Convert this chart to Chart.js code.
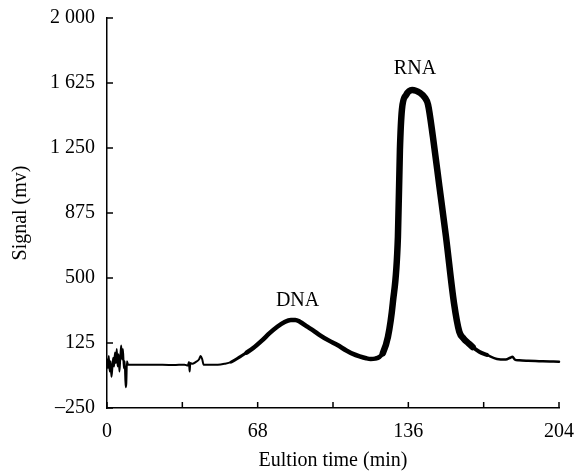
<!DOCTYPE html>
<html>
<head>
<meta charset="utf-8">
<script src="https://cdn.jsdelivr.net/npm/chart.js@4.4.1/dist/chart.umd.min.js"></script>
<style>
html,body{margin:0;padding:0;background:#fff;}
#wrap{width:578px;height:473px;}
</style>
</head>
<body>
<div id="wrap"><canvas id="c" width="578" height="473"></canvas></div>
<script>
// Elution time (min)
const timeMin = [0,0.4,0.8,1.2,1.6,2.0,2.4,2.8,3.2,3.6,4.0,4.4,4.8,5.2,5.6,6.0,6.4,6.8,7.2,7.6,8.0,8.4,8.7,9.0,9.5,
  12,20,30,35,36.5,37,37.3,37.6,38.5,40,41.5,42.3,43,43.6,46,50,53,56,60,63,66,70,73.5,77,80,83,85,87,90,93,
  96,100,104,108,111,114,117,119,121,123,124.5,126.8,129,131.3,132.2,133.1,135,137.7,141.3,143.5,144.9,147.1,
  150,153,156.6,159,161,163,165,168,171.5,176,180,182,183,184,186,190,195,200,204,205.8];
// Signal (mv)
const signalMv = [30,-20,50,-40,20,-70,-20,40,-10,70,10,90,-10,60,-40,40,110,30,90,-20,20,-130,-110,20,0,
  0,0,-2,0,-5,15,-40,10,5,15,30,50,30,0,0,0,5,15,45,70,96,140,183,220,245,258,258,248,222,198,
  171,140,113,82,62,48,37,33,35,45,67,160,356,737,1239,1470,1556,1585,1568,1540,1500,1314,
  1030,737,356,190,150,125,102,75,56,33,30,40,45,30,25,22,20,18,17,15];

const xTickValues = [0,34,68,102,136,170,204];
const xTickLabels = ['0','','68','','136','','204'];
const yTickValues = [-250,125,500,875,1250,1625,2000];
const yTickLabels = ['\u2013250','125','500','875','1\u00a0250','1\u00a0625','2\u00a0000'];

const peakNames = ['DNA','RNA'];
const peakNameTime = [86,139];
const peakNameSignal = [367,1706];

const FONT = '"Liberation Serif", "Times New Roman", Times, serif';

const points = timeMin.map((t,i)=>({x:t,y:signalMv[i]}));

const decor = {
  id:'decor',
  afterDatasetsDraw(chart){
    const {ctx, scales:{x,y}} = chart;
    ctx.save();
    ctx.strokeStyle = '#000';
    ctx.lineWidth = 1.5;
    const y0 = y.getPixelForValue(-250);
    const x0 = x.getPixelForValue(0);
    xTickValues.forEach(v=>{
      const px = x.getPixelForValue(v);
      ctx.beginPath(); ctx.moveTo(px, y0); ctx.lineTo(px, y0-6); ctx.stroke();
    });
    yTickValues.forEach(v=>{
      const py = y.getPixelForValue(v);
      ctx.beginPath(); ctx.moveTo(x0, py); ctx.lineTo(x0+6, py); ctx.stroke();
    });
    ctx.fillStyle = '#000';
    ctx.font = '20px ' + FONT;
    ctx.textAlign = 'center';
    ctx.textBaseline = 'middle';
    peakNames.forEach((n,i)=>{
      ctx.fillText(n, x.getPixelForValue(peakNameTime[i]), y.getPixelForValue(peakNameSignal[i]));
    });
    ctx.restore();
  }
};

function widthAt(t){
  if (t < 55) return 2;
  if (t < 62) return 3;
  if (t < 124) return 4.5;
  if (t < 166) return 6.5;
  if (t < 173) return 4;
  return 2.5;
}

new Chart(document.getElementById('c'), {
  type:'line',
  data:{datasets:[{
    data: points,
    borderColor:'#000',
    borderWidth:2,
    pointRadius:0,
    fill:false,
    cubicInterpolationMode:'monotone',
    borderCapStyle:'round',
    borderJoinStyle:'round',
    clip:false,
    segment:{ borderWidth: c => widthAt((c.p0.parsed.x + c.p1.parsed.x)/2) }
  }]},
  options:{
    responsive:false,
    animation:false,
    devicePixelRatio:1,
    layout:{padding:{top:18,right:19,left:0,bottom:0}},
    plugins:{legend:{display:false},tooltip:{enabled:false}},
    scales:{
      x:{
        type:'linear', min:0, max:204,
        afterBuildTicks: s => { s.ticks = xTickValues.map(v=>({value:v})); },
        afterFit: s => { s.height = 65; s.paddingLeft = 0; s.paddingRight = 0; },
        grid:{display:false, drawTicks:false},
        border:{display:true, color:'#000', width:1.5},
        ticks:{
          padding:12, color:'#000', font:{family:FONT, size:20}, maxRotation:0, autoSkip:false,
          callback: (v)=>{ const i = xTickValues.indexOf(v); return i>=0 ? xTickLabels[i] : ''; }
        },
        title:{display:true, text:'Eultion time (min)', color:'#000', font:{family:FONT, size:20}, padding:{top:0,bottom:0}}
      },
      y:{
        type:'linear', min:-250, max:2000,
        afterBuildTicks: s => { s.ticks = yTickValues.map(v=>({value:v})); },
        afterFit: s => { s.width = 107; s.paddingTop = 0; s.paddingBottom = 0; },
        grid:{display:false, drawTicks:false},
        border:{display:true, color:'#000', width:1.5},
        ticks:{
          padding:12, color:'#000', font:{family:FONT, size:20}, autoSkip:false,
          callback: (v)=>{ const i = yTickValues.indexOf(v); return i>=0 ? yTickLabels[i] : ''; }
        },
        title:{display:true, text:'Signal (mv)', color:'#000', font:{family:FONT, size:20}, padding:{top:9,bottom:0}}
      }
    }
  },
  plugins:[decor]
});
</script>
</body>
</html>
